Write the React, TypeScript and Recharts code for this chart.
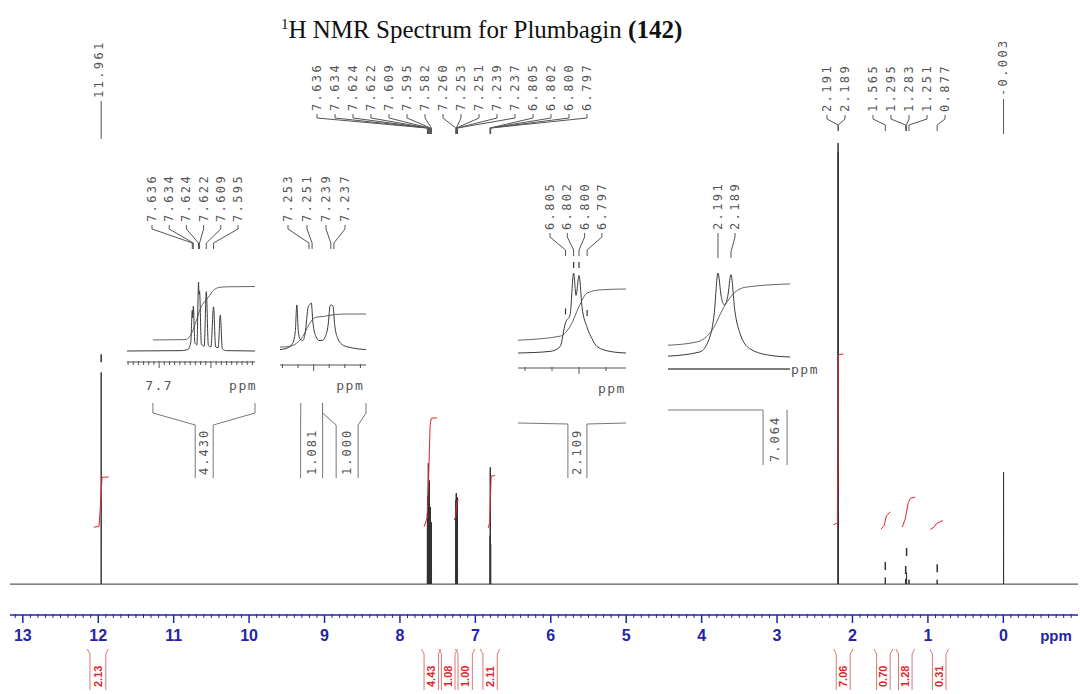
import React from 'react';
import { ComposedChart, Line, Scatter, XAxis, YAxis } from 'recharts';

const MONO = '"DejaVu Sans Mono", monospace';
const SANS = '"Liberation Sans", Arial, sans-serif';
const SERIF = '"Liberation Serif", "Times New Roman", serif';
const AXIS_BLUE = '#2424a8';
const INT_RED = '#e0262c';

type Pt = [number, number];

// ---- main spectrum: [ppm, intensity] (tallest line = 100)
const mainPeaks: Pt[] = [
  [11.961, 48],
  [7.636, 16], [7.634, 20], [7.624, 27.4], [7.622, 24], [7.609, 23.5], [7.595, 17.5], [7.582, 14],
  [7.26, 19], [7.253, 20.6], [7.251, 20.5], [7.239, 19.7], [7.237, 19.3],
  [6.805, 11], [6.802, 26.5], [6.8, 26], [6.797, 9],
  [2.191, 100], [2.189, 98],
  [1.565, 1.5], [1.295, 1.2], [1.283, 2.6], [1.251, 1.0], [0.877, 1.0],
  [-0.003, 25.4],
];

// peak-pick marks drawn above some peaks
const mainPickMarks: Pt[] = [[11.961, 51.2], [1.565, 4.1], [1.295, 3.2], [1.283, 7.3], [0.877, 3.6]];

// red integral traces
const mainIntegralCurves: Pt[][] = [
  [[12.06, 12.9], [11.99, 13.1], [11.97, 18], [11.95, 24.2], [11.86, 24.3]],
  [[7.68, 13], [7.64, 15], [7.62, 24], [7.6, 36], [7.585, 37.6], [7.51, 37.7]],
  [[7.28, 14.5], [7.26, 15.5], [7.25, 17.5], [7.24, 19], [7.22, 19.1]],
  [[6.83, 12.7], [6.81, 14], [6.8, 20], [6.79, 24.5], [6.74, 24.6]],
  [[2.25, 13.5], [2.2, 13.8], [2.19, 30], [2.188, 52], [2.12, 52.2]],
  [[1.62, 12.5], [1.58, 13.3], [1.55, 15.5], [1.5, 16.4]],
  [[1.34, 12.9], [1.3, 14.8], [1.26, 18.5], [1.23, 19.5], [1.17, 19.7]],
  [[0.97, 12.4], [0.92, 12.9], [0.88, 13.8], [0.8, 14.4]],
];

const mainIntegralRegions: Pt[] = [
  [12.11, 11.9], [7.68, 7.49], [7.45, 7.27], [7.23, 7.04], [6.9, 6.71],
  [2.215, 2.03], [1.68, 1.5], [1.39, 1.21], [0.94, 0.76],
];
const mainIntegralValues = ['2.13', '4.43', '1.08', '1.00', '2.11', '7.06', '0.70', '1.28', '0.31'];

const mainTickValues = [13, 12, 11, 10, 9, 8, 7, 6, 5, 4, 3, 2, 1, 0];
const mainTickLabels = ['13', '12', '11', '10', '9', '8', '7', '6', '5', '4', '3', '2', '1', '0'];

// peak labels along the top
const labelsAcid = [11.961];
const labelsAromatic = [7.636, 7.634, 7.624, 7.622, 7.609, 7.595, 7.582, 7.26, 7.253, 7.251, 7.239, 7.237, 6.805, 6.802, 6.8, 6.797];
const labelsMethyl = [2.191, 2.189];
const labelsAliphatic = [1.565, 1.295, 1.283, 1.251, 0.877];
const labelsTms = [-0.003];

// ---- insets
const insetATrace: Pt[] = [
  [7.762, 0], [7.66, 0.5], [7.645, 2], [7.639, 12], [7.636, 59], [7.6352, 48], [7.634, 65], [7.631, 12],
  [7.627, 9], [7.6245, 90], [7.624, 100], [7.623, 82], [7.622, 87], [7.6185, 10], [7.613, 7], [7.609, 86],
  [7.605, 8], [7.6, 6], [7.595, 64], [7.591, 6], [7.586, 5], [7.582, 52], [7.578, 3], [7.57, 0.5], [7.515, 0],
];
const insetAIntegral: Pt[] = [
  [7.712, 16], [7.65, 16.5], [7.64, 22], [7.63, 40], [7.62, 62], [7.605, 78], [7.595, 88], [7.585, 92], [7.57, 93], [7.515, 93.5],
];
const insetALabels = [7.636, 7.634, 7.624, 7.622, 7.609, 7.595];
const insetABrackets = [{ from: 7.712, to: 7.515, at: 7.613, value: '4.430' }];

const insetBTrace: Pt[] = [
  [7.2716, 3], [7.267, 6], [7.2635, 16], [7.2618, 40], [7.2608, 96], [7.2598, 40], [7.2585, 24], [7.257, 22],
  [7.2555, 36], [7.2535, 92], [7.2525, 97], [7.2515, 100], [7.2505, 60], [7.2485, 30], [7.2465, 22],
  [7.2445, 22], [7.2425, 30], [7.2405, 60], [7.2395, 94], [7.2385, 96], [7.2375, 92], [7.2365, 55],
  [7.2345, 26], [7.231, 12], [7.226, 7], [7.2164, 3],
];
const insetBIntegral: Pt[] = [
  [7.2716, 8], [7.265, 10], [7.261, 16], [7.257, 30], [7.253, 55], [7.249, 70], [7.244, 72],
  [7.24, 74], [7.236, 76], [7.23, 77], [7.2164, 77],
];
const insetBLabels = [7.253, 7.251, 7.239, 7.237];
const insetBBrackets = [
  { from: 7.2583, to: 7.2443, at: 7.2513, value: '1.081' },
  { from: 7.2443, to: 7.2164, at: 7.2285, value: '1.000' },
];

const insetCTrace: Pt[] = [
  [6.8226, 0], [6.8107, 2], [6.807, 8], [6.805, 38], [6.8033, 48], [6.802, 100], [6.8011, 72],
  [6.8, 97], [6.7989, 58], [6.797, 32], [6.7952, 18], [6.7933, 8], [6.7885, 2], [6.7826, 0],
];
const insetCIntegral: Pt[] = [[6.8226, 16], [6.807, 21], [6.803, 35], [6.8, 58], [6.797, 75], [6.792, 79], [6.7826, 80]];
const insetCLabels = [6.805, 6.802, 6.8, 6.797];
const insetCMarks: Pt[] = [[6.805, 52], [6.802, 110], [6.8, 110], [6.797, 50]];
const insetCBrackets = [{ from: 6.8226, to: 6.7826, at: 6.8006, value: '2.109' }];

const insetDTrace: Pt[] = [
  [2.1987, 1], [2.1938, 6], [2.1922, 25], [2.1916, 50], [2.191, 100], [2.1905, 72], [2.19, 62],
  [2.1895, 72], [2.189, 98], [2.1884, 55], [2.1876, 28], [2.1861, 10], [2.183, 2], [2.1799, 0],
];
const insetDIntegral: Pt[] = [[2.1987, 14], [2.1942, 18], [2.1919, 32], [2.1899, 62], [2.1884, 77], [2.1868, 83], [2.1799, 87]];
const insetDLabels = [2.191, 2.189];
const insetDBrackets = [{ from: 2.1987, to: 2.1804, at: 2.1822, value: '7.064' }];

// ---- helpers
const toRows = (pts: Pt[]) => pts.map(([ppm, v]) => ({ ppm, v }));
const joinSegs = (segs: Pt[][]) =>
  segs.flatMap((seg, i) => {
    const rows: any[] = toRows(seg);
    if (i === 0) return rows;
    const prev = segs[i - 1][segs[i - 1].length - 1][0];
    return [{ ppm: (prev + seg[0][0]) / 2, v: null }, ...rows];
  });

const MAIN_HI = 13.17;
const MAIN_LO = -0.99;
const LINE_HALF = 0.001;

const spectrumRows = [
  { ppm: MAIN_HI, v: 0 },
  ...[...mainPeaks]
    .sort((a, b) => b[0] - a[0])
    .flatMap(([p, h]) => [
      { ppm: p + LINE_HALF, v: 0 },
      { ppm: p, v: h },
      { ppm: p - LINE_HALF, v: 0 },
    ]),
  { ppm: MAIN_LO, v: 0 },
];

const mainTicks = Array.from({ length: 141 }, (_, i) => (131 - i) / 10);

const mainLabelGroups = [
  { values: labelsAcid, start: 99, step: 0, bottom: 98, conv: 139, straight: true },
  { values: labelsAromatic, start: 317, step: 18, bottom: 111, conv: 134, straight: false },
  { values: labelsMethyl, start: 827, step: 18, bottom: 112, conv: 131, straight: false },
  { values: labelsAliphatic, start: 873, step: 18, bottom: 112, conv: 131, straight: false },
  { values: labelsTms, start: 1003, step: 0, bottom: 96, conv: 134, straight: true },
];

const mainLabelRows = mainLabelGroups.flatMap((g) =>
  g.values.map((p, i) => ({
    ppm: p, v: 0, text: p.toFixed(3), col: g.start + i * g.step,
    bottom: g.bottom, conv: g.conv, straight: g.straight,
  })),
);

// ---- shapes
const PeakLabel = (props: any) => {
  const { cx, payload } = props;
  const { text, col, bottom, conv, straight } = payload;
  const tx = col + 4;
  const d = straight
    ? `M${cx},${bottom + 3}L${cx},${conv}`
    : `M${col},${bottom + 3}L${col},${bottom + 7}L${cx},${conv - 6}L${cx},${conv}`;
  return (
    <g>
      <text x={tx} y={bottom} transform={`rotate(-90 ${tx} ${bottom})`} fontFamily={MONO}
        fontSize={12} letterSpacing={2.4} fill="#555">{text}</text>
      <path d={d} stroke="#555" fill="none" strokeWidth={1} />
    </g>
  );
};

const PickMark = (props: any) => (
  <line x1={props.cx} x2={props.cx} y1={props.cy - 4} y2={props.cy + 4} stroke="#333" strokeWidth={1.5} />
);

const MainTick = (props: any) => {
  const { x, y, payload } = props;
  const idx = mainTickValues.findIndex((t) => Math.abs(t - payload.value) < 1e-6);
  if (idx < 0) return <line x1={x} x2={x} y1={y - 1} y2={y + 3} stroke={AXIS_BLUE} strokeWidth={1} />;
  return (
    <g>
      <line x1={x} x2={x} y1={y} y2={y + 8} stroke={AXIS_BLUE} strokeWidth={1.5} />
      <text x={x} y={y + 26} textAnchor="middle" fontFamily={SANS} fontWeight="bold" fontSize={16} fill={AXIS_BLUE}>
        {mainTickLabels[idx]}
      </text>
    </g>
  );
};

const PpmNote = (props: any) => (
  <text x={props.cx - 22} y={641} textAnchor="middle" fontFamily={SANS} fontWeight="bold" fontSize={15} fill={AXIS_BLUE}>ppm</text>
);

const RedValue = (props: any) => {
  const tx = props.cx + 4;
  const ty = props.cy - 3;
  return (
    <text x={tx} y={ty} transform={`rotate(-90 ${tx} ${ty})`} fontFamily={SANS} fontWeight="bold"
      fontSize={11} fill={INT_RED}>{props.payload.text}</text>
  );
};

const GreyValue = (props: any) => {
  const tx = props.cx + 4;
  const ty = props.cy - 3;
  return (
    <text x={tx} y={ty} transform={`rotate(-90 ${tx} ${ty})`} fontFamily={MONO}
      fontSize={12} letterSpacing={2} fill="#555">{props.payload.text}</text>
  );
};

const InsetTick = (props: any) => (
  <line x1={props.cx} x2={props.cx} y1={props.cy - 1} y2={props.cy + (props.payload.major ? 6 : 3)}
    stroke="#555" strokeWidth={1} />
);

const InsetMark = (props: any) => (
  <line x1={props.cx} x2={props.cx} y1={props.cy - 3} y2={props.cy + 3} stroke="#333" strokeWidth={1.2} />
);

const AxisText = (props: any) => (
  <text x={props.cx + props.payload.dx} y={props.payload.y} textAnchor="middle" fontFamily={MONO}
    fontSize={13} letterSpacing={1.5} fill="#555">{props.payload.text}</text>
);

// ---- inset layouts
const insets = [
  {
    left: 127, right: 255, top: 165, bottom: 482, mL: 4, mR: 4, hi: 7.762, lo: 7.515, base: 351, peakPx: 69,
    trace: insetATrace, integral: insetAIntegral, labels: insetALabels, labelStart: 152, labelStep: 17.2,
    textBottom: 222, conv: 249, axisY: 362, axisW: 1, marks: [],
    minorTicks: [7.76, 7.75, 7.74, 7.73, 7.72, 7.71, 7.69, 7.68, 7.67, 7.66, 7.65, 7.64, 7.63, 7.62, 7.61, 7.59, 7.58, 7.57, 7.56, 7.55, 7.54, 7.53, 7.52],
    majorTicks: [7.7, 7.6],
    axisText: [{ ppm: 7.7, text: '7.7', dx: 0, y: 390 }, { ppm: 7.538, text: 'ppm', dx: 0, y: 390 }],
    brackets: insetABrackets, half: 9, levels: [403, 413, 425, 478],
  },
  {
    left: 280, right: 366, top: 165, bottom: 482, mL: 4, mR: 6, hi: 7.2716, lo: 7.2164, base: 351, peakPx: 48,
    trace: insetBTrace, integral: insetBIntegral, labels: insetBLabels, labelStart: 288, labelStep: 19,
    textBottom: 222, conv: 249, axisY: 365, axisW: 1, marks: [],
    minorTicks: [7.27, 7.26, 7.24, 7.23, 7.22], majorTicks: [7.25],
    axisText: [{ ppm: 7.2265, text: 'ppm', dx: 0, y: 390 }],
    brackets: insetBBrackets, half: 11, levels: [403, 413, 425, 478],
  },
  {
    left: 518, right: 626, top: 170, bottom: 482, mL: 4, mR: 6, hi: 6.8226, lo: 6.7826, base: 353, peakPx: 80,
    trace: insetCTrace, integral: insetCIntegral, labels: insetCLabels, labelStart: 550, labelStep: 17.3,
    textBottom: 230, conv: 256, axisY: 368, axisW: 1, marks: insetCMarks,
    minorTicks: [6.82, 6.81, 6.79], majorTicks: [6.8],
    axisText: [{ ppm: 6.7878, text: 'ppm', dx: 0, y: 393 }],
    brackets: insetCBrackets, half: 9.5, levels: [423, 423, 424, 478],
  },
  {
    left: 668, right: 790, top: 175, bottom: 470, mL: 4, mR: 36, hi: 2.1987, lo: 2.1799, base: 357, peakPx: 84,
    trace: insetDTrace, integral: insetDIntegral, labels: insetDLabels, labelStart: 718, labelStep: 17,
    textBottom: 230, conv: 258, axisY: 369, axisW: 1.6, marks: [],
    minorTicks: [], majorTicks: [],
    axisText: [{ ppm: 2.1799, text: 'ppm', dx: 15, y: 374 }],
    brackets: insetDBrackets, half: 12, levels: [410, 410, 410, 465],
  },
];

function Inset({ c }: { c: any }) {
  const k = c.peakPx / 100;
  const yv = (Y: number) => (c.base - Y) / k;
  const ox = c.left - c.mL;
  const ppx = (c.right - c.left) / (c.hi - c.lo);
  const W = c.right - c.left + c.mL + c.mR;
  const H = c.bottom - c.top;
  const axisRows = [{ ppm: c.hi, v: yv(c.axisY) }, { ppm: c.lo, v: yv(c.axisY) }];
  const tickRows = [
    ...c.minorTicks.map((p: number) => ({ ppm: p, v: yv(c.axisY), major: false })),
    ...c.majorTicks.map((p: number) => ({ ppm: p, v: yv(c.axisY), major: true })),
  ];
  const axisTextRows = c.axisText.map((t: any) => ({ ppm: t.ppm, v: 0, text: t.text, dx: t.dx, y: t.y - c.top }));
  const labelRows = c.labels.map((p: number, i: number) => ({
    ppm: p, v: 0, text: p.toFixed(3), col: c.labelStart + i * c.labelStep - ox,
    bottom: c.textBottom - c.top, conv: c.conv - c.top, straight: false,
  }));
  const [yA, yB, yC, yD] = c.levels;
  const hw = c.half / ppx;
  const bracketRows = c.brackets.flatMap((b: any, i: number) => [
    ...(i ? [{ ppm: b.from, v: null }] : []),
    { ppm: b.from, v: yv(yA) }, { ppm: b.from, v: yv(yB) },
    { ppm: b.at + hw, v: yv(yC) }, { ppm: b.at + hw, v: yv(yD) },
    { ppm: b.at, v: null },
    { ppm: b.at - hw, v: yv(yD) }, { ppm: b.at - hw, v: yv(yC) },
    { ppm: b.to, v: yv(yB) }, { ppm: b.to, v: yv(yA) },
  ]);
  const bracketTextRows = c.brackets.map((b: any) => ({ ppm: b.at, v: yv(yD), text: b.value }));

  return (
    <div style={{ position: 'absolute', left: ox, top: c.top }}>
      <ComposedChart width={W} height={H} margin={{ top: 0, right: c.mR, bottom: 0, left: c.mL }}>
        <XAxis type="number" dataKey="ppm" domain={[c.lo, c.hi]} reversed hide />
        <YAxis type="number" domain={[yv(c.bottom), yv(c.top)]} hide />
        <Line data={toRows(c.integral)} dataKey="v" type="monotone" dot={false} stroke="#666" strokeWidth={1} isAnimationActive={false} />
        <Line data={toRows(c.trace)} dataKey="v" type="monotone" dot={false} stroke="#3a3a3a" strokeWidth={1} isAnimationActive={false} />
        <Line data={axisRows} dataKey="v" type="linear" dot={false} stroke="#555" strokeWidth={c.axisW} isAnimationActive={false} />
        <Line data={bracketRows} dataKey="v" type="linear" dot={false} stroke="#777" strokeWidth={1} isAnimationActive={false} />
        <Scatter data={tickRows} dataKey="v" shape={InsetTick} isAnimationActive={false} />
        <Scatter data={toRows(c.marks)} dataKey="v" shape={InsetMark} isAnimationActive={false} />
        <Scatter data={axisTextRows} dataKey="v" shape={AxisText} isAnimationActive={false} />
        <Scatter data={labelRows} dataKey="v" shape={PeakLabel} isAnimationActive={false} />
        <Scatter data={bracketTextRows} dataKey="v" shape={GreyValue} isAnimationActive={false} />
      </ComposedChart>
    </div>
  );
}

export default function App() {
  const integralRows = joinSegs(mainIntegralCurves);
  const pickRows = toRows(mainPickMarks);
  const stripLines = mainIntegralRegions.flatMap(([from, to], i) => [
    ...(i ? [{ ppm: from + 0.035, v: null }] : []),
    { ppm: from + 0.035, v: 45 }, { ppm: from, v: 40 }, { ppm: from, v: 4 },
    { ppm: (from + to) / 2, v: null },
    { ppm: to, v: 4 }, { ppm: to, v: 40 }, { ppm: to - 0.035, v: 45 },
  ]);
  const stripText = mainIntegralRegions.map(([from, to], i) => ({
    ppm: (from + to) / 2, v: 4, text: mainIntegralValues[i],
  }));

  return (
    <div style={{ position: 'relative', width: 1080, height: 694, background: '#fff', overflow: 'hidden' }}>
      <style>{'body{margin:0}'}</style>
      <div style={{ position: 'absolute', left: 281, top: 15, fontFamily: SERIF, fontSize: 25, color: '#111', whiteSpace: 'nowrap', lineHeight: '30px' }}>
        <span style={{ fontSize: 15, position: 'relative', top: -9 }}>1</span>H NMR Spectrum for Plumbagin <b>(142)</b>
      </div>

      <div style={{ position: 'absolute', left: 0, top: 0 }}>
        <ComposedChart width={1080} height={694} margin={{ top: 143, right: 2, bottom: 49, left: 10 }}>
          <XAxis type="number" dataKey="ppm" domain={[MAIN_LO, MAIN_HI]} reversed ticks={mainTicks} interval={0}
            tick={MainTick} tickSize={0} tickMargin={0} tickLine={false} height={30}
            axisLine={{ stroke: AXIS_BLUE, strokeWidth: 1.5 }} />
          <YAxis type="number" domain={[-7, 100]} hide />
          <Line data={spectrumRows} dataKey="v" type="linear" dot={false} stroke="#333" strokeWidth={1} isAnimationActive={false} />
          <Line data={integralRows} dataKey="v" type="linear" dot={false} stroke={INT_RED} strokeWidth={1} isAnimationActive={false} />
          <Scatter data={pickRows} dataKey="v" shape={PickMark} isAnimationActive={false} />
          <Scatter data={mainLabelRows} dataKey="v" shape={PeakLabel} isAnimationActive={false} />
          <Scatter data={[{ ppm: MAIN_LO, v: 0 }]} dataKey="v" shape={PpmNote} isAnimationActive={false} />
        </ComposedChart>
      </div>

      <div style={{ position: 'absolute', left: 0, top: 640 }}>
        <ComposedChart width={1080} height={54} margin={{ top: 0, right: 2, bottom: 0, left: 10 }}>
          <XAxis type="number" dataKey="ppm" domain={[MAIN_LO, MAIN_HI]} reversed hide />
          <YAxis type="number" domain={[0, 54]} hide />
          <Line data={stripLines} dataKey="v" type="linear" dot={false} stroke="#d77" strokeWidth={1} isAnimationActive={false} />
          <Scatter data={stripText} dataKey="v" shape={RedValue} isAnimationActive={false} />
        </ComposedChart>
      </div>

      {insets.map((c, i) => (
        <Inset key={i} c={c} />
      ))}
    </div>
  );
}
